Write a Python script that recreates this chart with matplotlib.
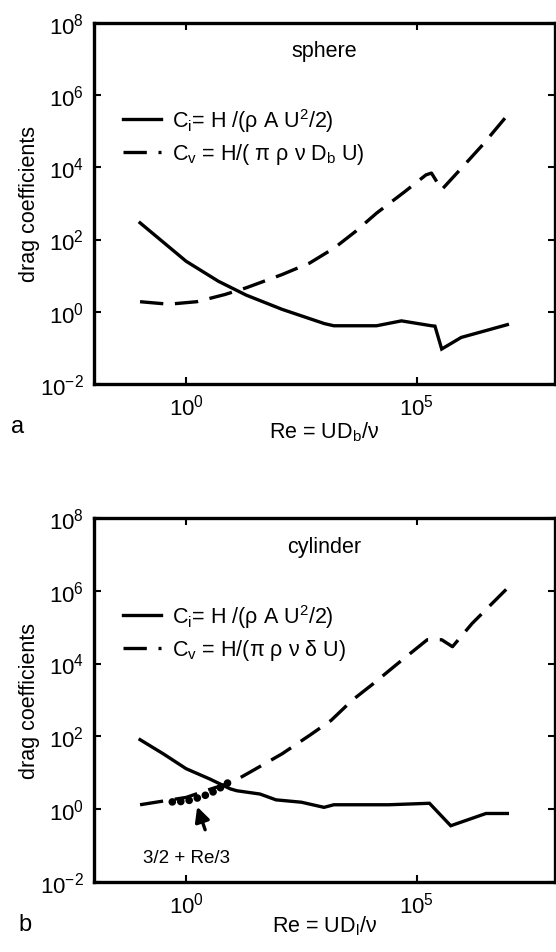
import numpy as np
import matplotlib
matplotlib.use('Agg')
import matplotlib.pyplot as plt

plt.rcParams['font.family'] = ['Liberation Sans', 'DejaVu Sans']
plt.rcParams['mathtext.fontset'] = 'custom'
plt.rcParams['mathtext.rm'] = 'Liberation Sans'
plt.rcParams['mathtext.it'] = 'Liberation Sans:italic'
plt.rcParams['mathtext.bf'] = 'Liberation Sans:bold'

# sphere (panel a)
re_sph_i = [0.1, 1, 5, 20, 120, 1000, 1600, 13500, 47000, 2.1e5, 2.5e5, 3.5e5, 9.3e5, 9.3e6]
ci_sph = [290, 25, 7, 2.9, 1.17, 0.47, 0.41, 0.41, 0.56, 0.41, 0.40, 0.093, 0.195, 0.44]
re_sph_v = [0.1, 0.42, 1.7, 6.9, 20, 120, 480, 1660, 4800, 13500, 56000, 1.6e5, 2.1e5,
            3.5e5, 9.3e5, 2.7e6, 9.3e6]
cv_sph = [1.9, 1.62, 1.9, 3.0, 4.6, 10.7, 22.4, 59, 170, 537, 2140, 6170, 6920,
          2400, 9330, 41700, 2.75e5]

# cylinder (panel b)
re_cyl_i = [0.1, 0.32, 1, 3.2, 9.1, 12.6, 40, 89, 316, 980, 1600, 25000, 1.9e5,
            5.5e5, 3.2e6, 9.3e6]
ci_cyl = [81, 33, 12.9, 6.8, 3.6, 3.2, 2.6, 1.8, 1.55, 1.12, 1.32, 1.32, 1.45,
          0.35, 0.76, 0.76]
re_cyl_v = [0.1, 0.35, 1, 3.5, 10, 28, 120, 480, 1400, 4000, 11500, 39000, 1.7e5,
            3.5e5, 6e5, 1.6e6, 9.3e6]
cv_cyl = [1.32, 1.7, 2.1, 3.6, 5.5, 11.5, 33, 107, 275, 980, 2800, 10000, 45000,
          45000, 29000, 1.26e5, 1.17e6]

# low-Re approximation 3/2 + Re/3 (dotted)
re_low = [0.5, 0.8, 1.3, 2, 3.2, 5, 8]
cv_low = [1.58, 1.62, 1.78, 2.14, 2.63, 3.55, 5.25]

ci_label = r'C$_\mathrm{i}$= H /(ρ A U$^\mathrm{2}$/2)'
cv_labels = [r'C$_\mathrm{v}$ = H/( π ρ ν D$_\mathrm{b}$ U)',
             r'C$_\mathrm{v}$ = H/(π ρ ν δ U)']
titles = ['sphere', 'cylinder']
xlabels = [r'Re = UD$_\mathrm{b}$/ν', r'Re = UD$_\mathrm{l}$/ν']
xlab_y = [-0.148, -0.135]
panel = ['a', 'b']

fig = plt.figure(figsize=(5.56, 9.53), dpi=100)
ax1 = fig.add_axes([0.169, 0.596, 0.829, 0.379])
ax2 = fig.add_axes([0.169, 0.0735, 0.829, 0.382])

# dotted approximation drawn first so the tick setup below sticks
ax2.loglog(re_low, cv_low, color='k', lw=5.5, linestyle=(0, (0.01, 1.1)),
           dash_capstyle='round')

lw = 2.4
data = [(re_sph_i, ci_sph, re_sph_v, cv_sph), (re_cyl_i, ci_cyl, re_cyl_v, cv_cyl)]
for k, ax in enumerate([ax1, ax2]):
    ri, ci, rv, cv = data[k]
    l1, = ax.loglog(ri, ci, color='k', lw=lw, solid_joinstyle='miter')
    l2, = ax.loglog(rv, cv, color='k', lw=lw, linestyle=(0, (7, 3.5)))
    ax.set_xlim(1e-2, 1e8)
    ax.set_ylim(1e-2, 1e8)
    ax.set_xticks([1e0, 1e5])
    ax.set_yticks([1e-2, 1e0, 1e2, 1e4, 1e6, 1e8])
    ax.minorticks_off()
    ax.tick_params(direction='in', length=5, width=1.5, top=True, right=True,
                   labelsize=16, pad=7)
    for s in ax.spines.values():
        s.set_linewidth(2.4)
    ax.text(0.5, 0.922, titles[k], transform=ax.transAxes, ha='center', va='center',
            fontsize=15.5)
    ax.legend([l1, l2], [ci_label, cv_labels[k]], loc='upper left',
              bbox_to_anchor=(0.062, 0.77), frameon=False, borderpad=0,
              borderaxespad=0, handlelength=1.8, handletextpad=0.5,
              labelspacing=0.35, fontsize=15.5)
    ax.set_xlabel(xlabels[k], fontsize=15.5, va='baseline')
    ax.xaxis.set_label_coords(0.5, xlab_y[k])
    ax.set_ylabel('drag coefficients', fontsize=15.5, va='center')
    ax.yaxis.set_label_coords(-0.139, 0.5)

fig.text(18 / 556, 1 - 433 / 953, panel[0], fontsize=17, ha='center', va='baseline')
fig.text(25 / 556, 1 - 931 / 953, panel[1], fontsize=17, ha='center', va='baseline')

ax2.annotate('', xy=(1.66, 1.38), xytext=(2.7, 0.23),
             arrowprops=dict(arrowstyle='-|>', lw=2.4, color='k', mutation_scale=22))
ax2.text(1.0, 0.046, '3/2 + Re/3', ha='center', va='center', fontsize=13.5)

fig.savefig('out.png', dpi=100)
